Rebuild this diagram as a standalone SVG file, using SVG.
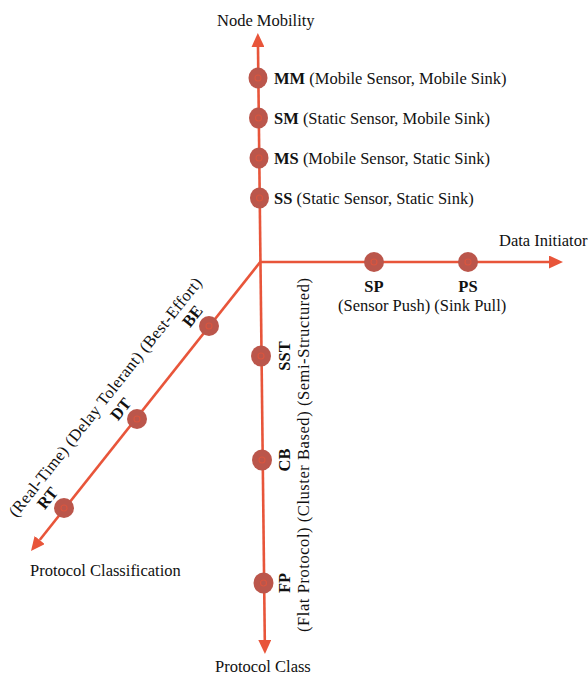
<svg xmlns="http://www.w3.org/2000/svg" width="588" height="678" viewBox="0 0 588 678">
<style>
text{font-family:"Liberation Serif","Times New Roman",serif;font-size:16.5px;fill:#111}
.b{font-weight:bold}
.ax{stroke:#e8553a;stroke-width:2.6;fill:none}
.dot{fill:#bb564b}
.ring{fill:none;stroke:#d9553f;stroke-width:1.2}
</style>
<defs>
<marker id="ah" markerWidth="14" markerHeight="13" refX="0" refY="6.5" orient="auto-start-reverse" markerUnits="userSpaceOnUse">
<path d="M0,0 L14,6.5 L0,13 z" fill="#e8553a"/>
</marker>
</defs>
<rect width="588" height="678" fill="#fff"/>
<g id="connectors">
<line class="ax" x1="258" y1="47" x2="264.8" y2="640" marker-start="url(#ah)" marker-end="url(#ah)"/>
<line class="ax" x1="260" y1="262" x2="549" y2="262" marker-end="url(#ah)"/>
<line class="ax" x1="261" y1="261" x2="39.7" y2="540" marker-end="url(#ah)"/>
</g>
<g id="axis-labels">
<text x="217" y="26">Node Mobility</text>
<text x="499" y="246">Data Initiator</text>
<text x="30" y="576">Protocol Classification</text>
<text x="215" y="672">Protocol Class</text>
</g>
<g id="MM"><ellipse class="dot" cx="258" cy="78" rx="9.5" ry="10.5"/><circle class="ring" cx="258" cy="78" r="3"/><text x="274" y="84"><tspan class="b">MM</tspan> (Mobile Sensor, Mobile Sink)</text></g>
<g id="SM"><ellipse class="dot" cx="258.5" cy="118" rx="9.5" ry="10.5"/><circle class="ring" cx="258.5" cy="118" r="3"/><text x="274" y="124"><tspan class="b">SM</tspan> (Static Sensor, Mobile Sink)</text></g>
<g id="MS"><ellipse class="dot" cx="259" cy="158" rx="9.5" ry="10.5"/><circle class="ring" cx="259" cy="158" r="3"/><text x="274" y="164"><tspan class="b">MS</tspan> (Mobile Sensor, Static Sink)</text></g>
<g id="SS"><ellipse class="dot" cx="259.5" cy="198" rx="9.5" ry="10.5"/><circle class="ring" cx="259.5" cy="198" r="3"/><text x="274" y="204"><tspan class="b">SS</tspan> (Static Sensor, Static Sink)</text></g>
<g id="SP"><ellipse class="dot" cx="374" cy="262" rx="10" ry="10"/><circle class="ring" cx="374" cy="262" r="3"/><text class="b" x="374" y="292" text-anchor="middle">SP</text></g>
<g id="PS"><ellipse class="dot" cx="468" cy="262" rx="10" ry="10"/><circle class="ring" cx="468" cy="262" r="3"/><text class="b" x="468" y="292" text-anchor="middle">PS</text></g>
<g id="data-initiator-desc"><text x="338" y="311">(Sensor Push) (Sink Pull)</text></g>
<g id="SST"><ellipse class="dot" cx="261" cy="356" rx="10" ry="10.5"/><circle class="ring" cx="261" cy="356" r="3"/><text class="b" transform="translate(290,356) rotate(-90)" text-anchor="middle">SST</text></g>
<g id="CB"><ellipse class="dot" cx="262" cy="460" rx="10" ry="10.5"/><circle class="ring" cx="262" cy="460" r="3"/><text class="b" transform="translate(290,460) rotate(-90)" text-anchor="middle">CB</text></g>
<g id="FP"><ellipse class="dot" cx="263.5" cy="583" rx="10" ry="10.5"/><circle class="ring" cx="263.5" cy="583" r="3"/><text class="b" transform="translate(290,583) rotate(-90)" text-anchor="middle">FP</text></g>
<g id="protocol-class-desc"><text transform="translate(309,455) rotate(-90)" text-anchor="middle" textLength="354" lengthAdjust="spacing">(Flat Protocol) (Cluster Based) (Semi-Structured)</text></g>
<g id="BE"><ellipse class="dot" cx="209" cy="326" rx="10" ry="10"/><circle class="ring" cx="209" cy="326" r="3"/><text class="b" transform="translate(196.8,319.6) rotate(-51.6)" text-anchor="middle">BE</text></g>
<g id="DT"><ellipse class="dot" cx="137" cy="419" rx="10" ry="10"/><circle class="ring" cx="137" cy="419" r="3"/><text class="b" transform="translate(125,412.6) rotate(-51.6)" text-anchor="middle">DT</text></g>
<g id="RT"><ellipse class="dot" cx="64" cy="508" rx="10" ry="10"/><circle class="ring" cx="64" cy="508" r="3"/><text class="b" transform="translate(51.8,501.6) rotate(-51.6)" text-anchor="middle">RT</text></g>
<g id="protocol-classification-desc"><text transform="translate(109.5,400.5) rotate(-51.6)" text-anchor="middle" textLength="300" lengthAdjust="spacing">(Real-Time) (Delay Tolerant) (Best-Effort)</text></g>
</svg>
